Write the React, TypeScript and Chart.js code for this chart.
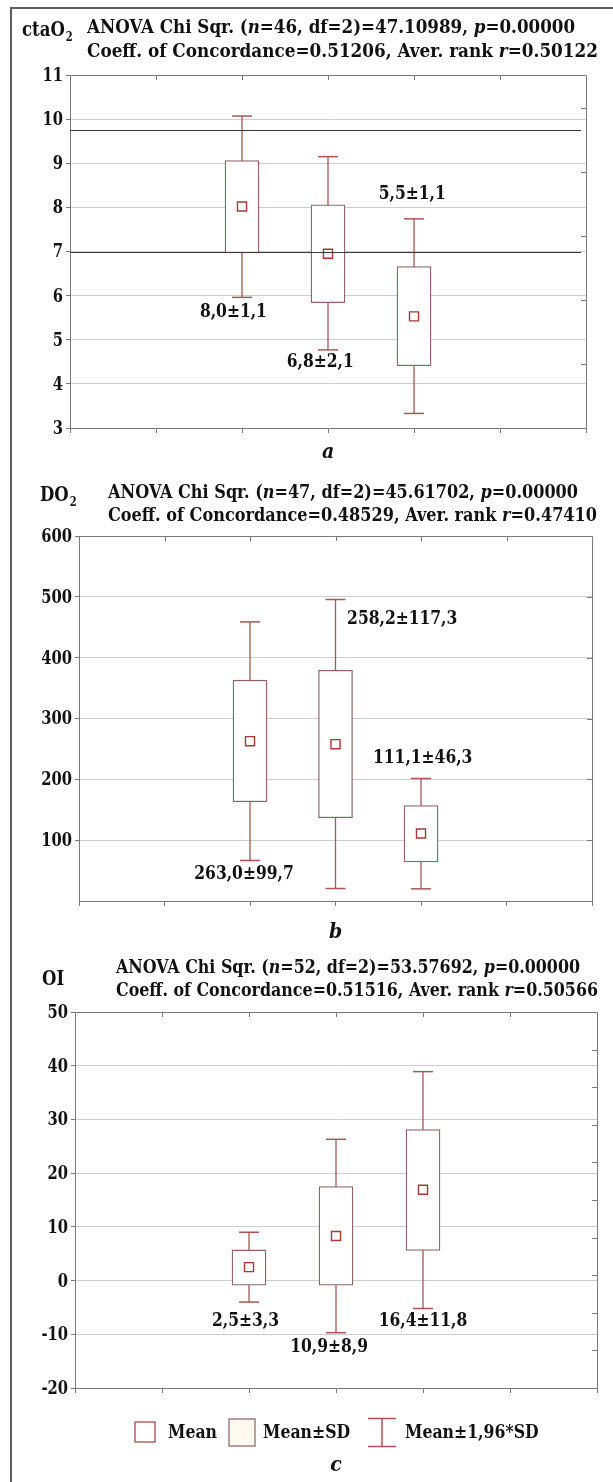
import React, { useEffect, useRef } from "react";
import { Chart, registerables } from "chart.js";

Chart.register(...registerables);

const FONT = "'DejaVu Serif Condensed', 'DejaVu Serif', serif";

// x slots on a 0..6 axis; the three groups sit in slots 2, 3, 4
const groupSlots = [2, 3, 4];

// ---- Panel a: ctaO2 ----
const ctaMean = [8.02, 6.95, 5.53];
const ctaSdLow = [6.97, 5.84, 4.41];
const ctaSdHigh = [9.06, 8.06, 6.66];
const ctaCiLow = [5.96, 4.77, 3.33];
const ctaCiHigh = [10.07, 9.15, 7.74];
const ctaLabels = ["8,0±1,1", "6,8±2,1", "5,5±1,1"];
const ctaRefLines = [9.75, 7.0];
const ctaTicks = [3, 4, 5, 6, 7, 8, 9, 10, 11];

// ---- Panel b: DO2 ----
const doMean = [262.7, 257.8, 111.0];
const doSdLow = [163.0, 136.7, 64.3];
const doSdHigh = [363.0, 379.4, 157.0];
const doCiLow = [66.6, 20.5, 20.0];
const doCiHigh = [458.8, 495.6, 201.4];
const doLabels = ["263,0±99,7", "258,2±117,3", "111,1±46,3"];
const doTicks = [100, 200, 300, 400, 500, 600];

// ---- Panel c: OI ----
const oiMean = [2.5, 8.3, 16.9];
const oiSdLow = [-0.87, -0.87, 5.6];
const oiSdHigh = [5.7, 17.5, 28.1];
const oiCiLow = [-4.0, -9.7, -5.2];
const oiCiHigh = [9.0, 26.3, 38.9];
const oiLabels = ["2,5±3,3", "10,9±8,9", "16,4±11,8"];
const oiTicks = [-20, -10, 0, 10, 20, 30, 40, 50];

const legendItems = ["Mean", "Mean±SD", "Mean±1,96*SD"];

type Seg = { t: string; it?: boolean };

interface PanelSpec {
  key: string;
  top: number;
  height: number;
  left: number;
  right: number;
  plotTop: number;
  plotBottom: number;
  yMin: number;
  yMax: number;
  yTicks: number[];
  rightStep: number;
  mean: number[];
  sdLow: number[];
  sdHigh: number[];
  ciLow: number[];
  ciHigh: number[];
  labels: string[];
  labelPos: { x: number; y: number }[];
  refLines: number[];
  symbol: { main: string; sub: string; x: number; y: number };
  line1: Seg[];
  line2: Seg[];
  titleX: number;
  line1Y: number;
  line2Y: number;
  line1End: number;
  line2End: number;
  letter: string;
  letterY: number;
  legend: boolean;
}

const panels: PanelSpec[] = [
  {
    key: "a",
    top: 0,
    height: 470,
    left: 70,
    right: 586,
    plotTop: 75,
    plotBottom: 428,
    yMin: 3,
    yMax: 11,
    yTicks: ctaTicks,
    rightStep: 1.45,
    mean: ctaMean,
    sdLow: ctaSdLow,
    sdHigh: ctaSdHigh,
    ciLow: ctaCiLow,
    ciHigh: ctaCiHigh,
    labels: ctaLabels,
    labelPos: [
      { x: 1.9, y: 5.63 },
      { x: 2.91, y: 4.5 },
      { x: 3.98, y: 8.3 },
    ],
    refLines: ctaRefLines,
    symbol: { main: "ctaO", sub: "2", x: 22, y: 31 },
    line1: [
      { t: "ANOVA Chi Sqr. (" },
      { t: "n", it: true },
      { t: "=46, df=2)=47.10989, " },
      { t: "p", it: true },
      { t: "=0.00000" },
    ],
    line2: [
      { t: "Coeff. of Concordance=0.51206, Aver. rank " },
      { t: "r", it: true },
      { t: "=0.50122" },
    ],
    titleX: 87,
    line1Y: 28,
    line2Y: 52,
    line1End: 575,
    line2End: 598,
    letter: "a",
    letterY: 453,
    legend: false,
  },
  {
    key: "b",
    top: 470,
    height: 480,
    left: 79,
    right: 592,
    plotTop: 536,
    plotBottom: 901,
    yMin: 0,
    yMax: 600,
    yTicks: doTicks,
    rightStep: 100,
    mean: doMean,
    sdLow: doSdLow,
    sdHigh: doSdHigh,
    ciLow: doCiLow,
    ciHigh: doCiHigh,
    labels: doLabels,
    labelPos: [
      { x: 1.93, y: 45 },
      { x: 3.78, y: 463 },
      { x: 4.02, y: 235 },
    ],
    refLines: [],
    symbol: { main: "DO", sub: "2", x: 40, y: 496 },
    line1: [
      { t: "ANOVA Chi Sqr. (" },
      { t: "n", it: true },
      { t: "=47, df=2)=45.61702, " },
      { t: "p", it: true },
      { t: "=0.00000" },
    ],
    line2: [
      { t: "Coeff. of Concordance=0.48529, Aver. rank " },
      { t: "r", it: true },
      { t: "=0.47410" },
    ],
    titleX: 108,
    line1Y: 493,
    line2Y: 516,
    line1End: 578,
    line2End: 597,
    letter: "b",
    letterY: 933,
    legend: false,
  },
  {
    key: "c",
    top: 950,
    height: 532,
    left: 75,
    right: 597,
    plotTop: 1012,
    plotBottom: 1388,
    yMin: -20,
    yMax: 50,
    yTicks: oiTicks,
    rightStep: 7,
    mean: oiMean,
    sdLow: oiSdLow,
    sdHigh: oiSdHigh,
    ciLow: oiCiLow,
    ciHigh: oiCiHigh,
    labels: oiLabels,
    labelPos: [
      { x: 1.96, y: -7.45 },
      { x: 2.92, y: -12.3 },
      { x: 4.0, y: -7.45 },
    ],
    refLines: [],
    symbol: { main: "OI", sub: "", x: 42, y: 980 },
    line1: [
      { t: "ANOVA Chi Sqr. (" },
      { t: "n", it: true },
      { t: "=52, df=2)=53.57692, " },
      { t: "p", it: true },
      { t: "=0.00000" },
    ],
    line2: [
      { t: "Coeff. of Concordance=0.51516, Aver. rank " },
      { t: "r", it: true },
      { t: "=0.50566" },
    ],
    titleX: 116,
    line1Y: 968,
    line2Y: 991,
    line1End: 580,
    line2End: 598,
    letter: "c",
    letterY: 1466,
    legend: true,
  },
];

const BOX_COLOR = "#8e6464";
const WHISKER_COLOR = "#a85656";
const MEAN_COLOR = "#a33a3a";
const AXIS_COLOR = "#7a7a7a";
const GRID_COLOR = "#cdcdcd";
const TEXT_COLOR = "#111111";

function fontOf(size: number, italic = false) {
  return `${italic ? "italic " : ""}bold ${size}px ${FONT}`;
}

// draw text with a horizontal squeeze so that `sample` would measure `sampleW` px
function drawSqueezed(
  ctx: CanvasRenderingContext2D,
  text: string,
  x: number,
  y: number,
  size: number,
  sx: number,
  align: "left" | "center" | "right",
  italic = false
) {
  ctx.save();
  ctx.font = fontOf(size, italic);
  const w = ctx.measureText(text).width * sx;
  let x0 = x;
  if (align === "center") x0 = x - w / 2;
  if (align === "right") x0 = x - w;
  ctx.translate(x0, y);
  ctx.scale(sx, 1);
  ctx.textAlign = "left";
  ctx.textBaseline = "middle";
  ctx.fillStyle = TEXT_COLOR;
  ctx.fillText(text, 0, 0);
  ctx.restore();
  return w;
}

function squeezeFor(ctx: CanvasRenderingContext2D, sample: string, size: number, targetW: number) {
  ctx.save();
  ctx.font = fontOf(size);
  const w = ctx.measureText(sample).width;
  ctx.restore();
  return targetW / w;
}

function drawRich(
  ctx: CanvasRenderingContext2D,
  segs: Seg[],
  x: number,
  y: number,
  size: number,
  targetW: number
) {
  const widths: number[] = [];
  let total = 0;
  segs.forEach((s) => {
    ctx.font = fontOf(size, s.it);
    const w = ctx.measureText(s.t).width;
    widths.push(w);
    total += w;
  });
  const sx = targetW / total;
  ctx.save();
  ctx.translate(x, y);
  ctx.scale(sx, 1);
  ctx.textAlign = "left";
  ctx.textBaseline = "middle";
  ctx.fillStyle = TEXT_COLOR;
  let cx = 0;
  segs.forEach((s, i) => {
    ctx.font = fontOf(size, s.it);
    ctx.fillText(s.t, cx, 0);
    cx += widths[i];
  });
  ctx.restore();
}

function makePlugin(p: PanelSpec) {
  return {
    id: "decor_" + p.key,
    afterDatasetsDraw(chart: any) {
      const ctx: CanvasRenderingContext2D = chart.ctx;
      const { left, right } = chart.chartArea;
      const y = chart.scales.y;
      ctx.save();
      ctx.strokeStyle = "#3a3a3a";
      ctx.lineWidth = 1;
      p.refLines.forEach((v) => {
        const py = Math.round(y.getPixelForValue(v)) + 0.5;
        ctx.beginPath();
        ctx.moveTo(left, py);
        ctx.lineTo(right - 5, py);
        ctx.stroke();
      });
      ctx.restore();
    },
    afterDraw(chart: any) {
      const ctx: CanvasRenderingContext2D = chart.ctx;
      const { left, right, top, bottom } = chart.chartArea;
      const xs = chart.scales.x;
      const ys = chart.scales.y;
      const off = p.top;
      ctx.save();
      // plot frame (top + right)
      ctx.strokeStyle = AXIS_COLOR;
      ctx.lineWidth = 1;
      ctx.beginPath();
      ctx.moveTo(left, Math.round(top) + 0.5);
      ctx.lineTo(Math.round(right) + 0.5, Math.round(top) + 0.5);
      ctx.lineTo(Math.round(right) + 0.5, bottom);
      ctx.stroke();
      // inward top ticks
      for (let v = 1; v <= 5; v++) {
        const px = Math.round(xs.getPixelForValue(v)) + 0.5;
        ctx.beginPath();
        ctx.moveTo(px, top);
        ctx.lineTo(px, top + 5);
        ctx.stroke();
      }
      // inward right ticks
      for (let v = p.yMin + p.rightStep; v < p.yMax - 1e-6; v += p.rightStep) {
        const py = Math.round(ys.getPixelForValue(v)) + 0.5;
        ctx.beginPath();
        ctx.moveTo(right - 5, py);
        ctx.lineTo(right, py);
        ctx.stroke();
      }
      // y tick labels (condensed bold serif)
      const tickSx = squeezeFor(ctx, "00", 19, 20.5);
      ys.ticks.forEach((t: any) => {
        drawSqueezed(ctx, String(t.value), left - 7, ys.getPixelForValue(t.value) + 1, 19, tickSx, "right");
      });
      // value annotations
      const annSx = squeezeFor(ctx, "8,0±1,1", 19, 67);
      p.labels.forEach((t, i) => {
        const pos = p.labelPos[i];
        drawSqueezed(ctx, t, xs.getPixelForValue(pos.x), ys.getPixelForValue(pos.y), 19, annSx, "center");
      });
      // symbol
      const sy = p.symbol.y - off;
      const symW = drawSqueezed(ctx, p.symbol.main, p.symbol.x, sy, 20, 0.92, "left");
      if (p.symbol.sub) {
        drawSqueezed(ctx, p.symbol.sub, p.symbol.x + symW + 1, sy + 7, 12, 0.92, "left");
      }
      // title lines
      drawRich(ctx, p.line1, p.titleX, p.line1Y - off, 18, p.line1End - p.titleX);
      drawRich(ctx, p.line2, p.titleX, p.line2Y - off, 18, p.line2End - p.titleX);
      // panel letter
      drawSqueezed(ctx, p.letter, (left + right) / 2, p.letterY - off, 21, 1, "center", true);
      // legend
      if (p.legend) {
        const ly = 1432 - off;
        ctx.lineWidth = 1.5;
        ctx.fillStyle = "#ffffff";
        ctx.strokeStyle = "#b06464";
        ctx.fillRect(135, ly - 10, 20, 20);
        ctx.strokeRect(135, ly - 10, 20, 20);
        ctx.fillStyle = "#fffaef";
        ctx.strokeStyle = "#a08080";
        ctx.fillRect(229, ly - 13, 26, 27);
        ctx.strokeRect(229, ly - 13, 26, 27);
        ctx.strokeStyle = WHISKER_COLOR;
        ctx.beginPath();
        ctx.moveTo(368, ly - 13.5);
        ctx.lineTo(396, ly - 13.5);
        ctx.moveTo(382, ly - 13.5);
        ctx.lineTo(382, ly + 14.5);
        ctx.moveTo(368, ly + 14.5);
        ctx.lineTo(396, ly + 14.5);
        ctx.stroke();
        const legSx = squeezeFor(ctx, "Mean", 19, 49);
        drawSqueezed(ctx, legendItems[0], 168, ly + 1, 19, legSx, "left");
        drawSqueezed(ctx, legendItems[1], 263, ly + 1, 19, legSx, "left");
        drawSqueezed(ctx, legendItems[2], 405, ly + 1, 19, legSx, "left");
      }
      ctx.restore();
    },
  };
}

function buildConfig(p: PanelSpec): any {
  const whiskers = groupSlots.map((x, i) => ({
    type: "line",
    data: [
      { x, y: p.ciLow[i] },
      { x, y: p.ciHigh[i] },
    ],
    borderColor: WHISKER_COLOR,
    borderWidth: 1.3,
    pointRadius: 0,
    order: 5,
  }));
  const caps = {
    type: "line",
    showLine: false,
    data: groupSlots.flatMap((x, i) => [
      { x, y: p.ciLow[i] },
      { x, y: p.ciHigh[i] },
    ]),
    pointStyle: "line",
    pointRadius: 10,
    pointBorderWidth: 1.5,
    pointBorderColor: WHISKER_COLOR,
    order: 4,
  };
  const boxes = {
    type: "bar",
    data: groupSlots.map((x, i) => ({ x, y: [p.sdLow[i], p.sdHigh[i]] })),
    backgroundColor: "#ffffff",
    borderColor: BOX_COLOR,
    borderWidth: 1.3,
    borderSkipped: false,
    barThickness: 34,
    order: 3,
  };
  const means = {
    type: "line",
    showLine: false,
    data: groupSlots.map((x, i) => ({ x, y: p.mean[i] })),
    pointStyle: "rect",
    pointRadius: 6.4,
    pointBackgroundColor: "#ffffff",
    pointBorderColor: MEAN_COLOR,
    pointBorderWidth: 1.4,
    order: 1,
  };
  return {
    type: "bar",
    data: { datasets: [...whiskers, caps, boxes, means] },
    options: {
      animation: false,
      responsive: false,
      maintainAspectRatio: false,
      devicePixelRatio: 1,
      events: [],
      layout: {
        padding: {
          left: 0,
          right: 613 - p.right,
          top: p.plotTop - p.top,
          bottom: p.height - (p.plotBottom - p.top) - 5,
        },
      },
      plugins: {
        legend: { display: false },
        tooltip: { enabled: false },
        title: { display: false },
      },
      scales: {
        x: {
          type: "linear",
          min: 0,
          max: 6,
          offset: false,
          ticks: { display: false, stepSize: 1 },
          grid: {
            drawOnChartArea: false,
            tickLength: 5,
            color: AXIS_COLOR,
            offset: false,
          },
          border: { color: AXIS_COLOR, width: 1 },
          afterFit(s: any) {
            s.height = 5;
            s.paddingLeft = 0;
            s.paddingRight = 0;
          },
        },
        y: {
          type: "linear",
          min: p.yMin,
          max: p.yMax,
          afterBuildTicks(s: any) {
            s.ticks = p.yTicks.map((v) => ({ value: v }));
          },
          ticks: { display: false, autoSkip: false },
          grid: {
            color: GRID_COLOR,
            lineWidth: 1,
            tickLength: 4,
            tickColor: AXIS_COLOR,
          },
          border: { color: AXIS_COLOR, width: 1 },
          afterFit(s: any) {
            s.width = p.left;
            s.paddingTop = 0;
            s.paddingBottom = 0;
          },
        },
      },
    },
    plugins: [makePlugin(p)],
  };
}

function PanelChart({ p }: { p: PanelSpec }) {
  const ref = useRef<HTMLCanvasElement>(null);
  useEffect(() => {
    const chart = new Chart(ref.current as HTMLCanvasElement, buildConfig(p));
    return () => chart.destroy();
  }, [p]);
  return (
    <canvas
      ref={ref}
      width={613}
      height={p.height}
      style={{ position: "absolute", left: 0, top: p.top, width: 613, height: p.height }}
    />
  );
}

export default function App() {
  return (
    <div
      style={{
        position: "absolute",
        left: 0,
        top: 0,
        width: 613,
        height: 1482,
        overflow: "hidden",
        background: "#ffffff",
      }}
    >
      {panels.map((p) => (
        <PanelChart key={p.key} p={p} />
      ))}
      <div
        style={{
          position: "absolute",
          left: 10,
          top: 7,
          width: 800,
          height: 1700,
          border: "2px solid #5e5e5e",
          boxSizing: "border-box",
          pointerEvents: "none",
        }}
      />
    </div>
  );
}
